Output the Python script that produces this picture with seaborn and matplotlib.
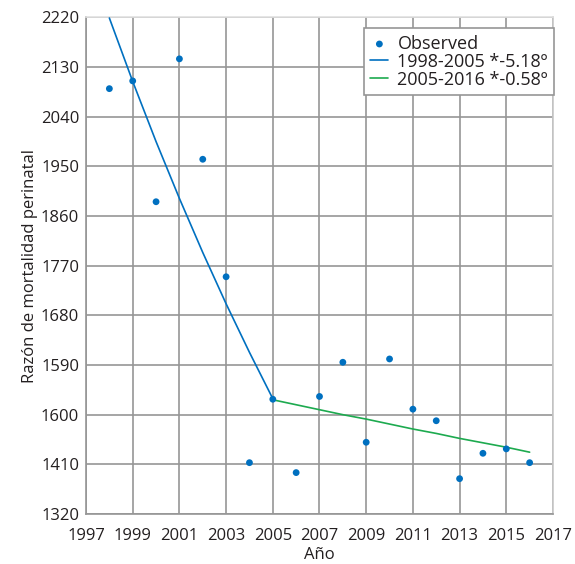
import matplotlib
matplotlib.use("Agg")
import matplotlib.pyplot as plt
import seaborn as sns
import pandas as pd

years = [1998, 1999, 2000, 2001, 2002, 2003, 2004, 2005, 2006, 2007, 2008,
         2009, 2010, 2011, 2012, 2013, 2014, 2015, 2016]
observed = [2091, 2105, 1886, 2145, 1963, 1750, 1413, 1528, 1395, 1533, 1595,
            1450, 1601, 1510, 1489, 1384, 1430, 1438, 1413]

seg1_years = [1998, 1999, 2000, 2001, 2002, 2003, 2004, 2005]
seg1_values = [2219, 2104, 1995, 1892, 1794, 1701, 1613, 1529]
seg2_years = [2005, 2006, 2007, 2008, 2009, 2010, 2011, 2012, 2013, 2014, 2015, 2016]
seg2_values = [1527, 1518, 1509, 1500, 1492, 1483, 1474, 1466, 1457, 1449, 1441, 1432]

seg1_label = "1998-2005 *-5.18º"
seg2_label = "2005-2016 *-0.58º"

x_ticks = [1997, 1999, 2001, 2003, 2005, 2007, 2009, 2011, 2013, 2015, 2017]
y_ticks = [1320, 1410, 1500, 1590, 1680, 1770, 1860, 1950, 2040, 2130, 2220]
y_tick_labels = ["1320", "1410", "1600", "1590", "1680", "1770", "1860",
                 "1950", "2040", "2130", "2220"]

sns.set_theme(style="whitegrid")
plt.rcParams['font.family'] = ['Open Sans', 'DejaVu Sans']

fig = plt.figure(figsize=(5.75, 5.64), dpi=100)
ax = fig.add_axes([0.1496, 0.0887, 0.8121, 0.8803])

blue = "#0070C0"
green = "#1DAA4F"

df_obs = pd.DataFrame({"year": years, "value": observed})
df1 = pd.DataFrame({"year": seg1_years, "value": seg1_values})
df2 = pd.DataFrame({"year": seg2_years, "value": seg2_values})

sns.scatterplot(data=df_obs, x="year", y="value", ax=ax, color=blue, s=24,
                edgecolor="none", label="Observed", zorder=4)
sns.lineplot(data=df1, x="year", y="value", ax=ax, color=blue, linewidth=1.2,
             label=seg1_label, zorder=3)
sns.lineplot(data=df2, x="year", y="value", ax=ax, color=green, linewidth=1.2,
             label=seg2_label, zorder=3)

ax.set_xlim(1997, 2017)
ax.set_ylim(1320, 2220)
ax.set_xticks(x_ticks)
ax.set_yticks(y_ticks)
ax.set_yticklabels(y_tick_labels)
ax.tick_params(axis="both", length=0, labelsize=12, colors="#231F20")
ax.tick_params(axis="x", pad=10)
ax.tick_params(axis="y", pad=5)
ax.grid(True, color="#969696", linewidth=1.2)
ax.set_facecolor("white")
for side, sp in ax.spines.items():
    sp.set_visible(True)
    sp.set_color("#969696")
    sp.set_linewidth(1.2)
ax.spines["top"].set_color("#E0E0E0")
ax.spines["right"].set_color("#C8C8C8")

ax.set_xlabel("Año", fontsize=12, color="#231F20", labelpad=2)
ax.set_ylabel("Razón de mortalidad perinatal", fontsize=12, color="#231F20", labelpad=2)

leg = ax.legend(loc="upper right", bbox_to_anchor=(1.003, 0.978), fontsize=13,
                frameon=True, fancybox=False, handlelength=1.0, handletextpad=0.5,
                borderpad=0.35, labelspacing=0.0, borderaxespad=0.0)
leg.get_frame().set_edgecolor("#969696")
leg.get_frame().set_linewidth(1.2)
leg.get_frame().set_alpha(1)
for t in leg.get_texts():
    t.set_color("#231F20")

fig.savefig("out.png", dpi=100)
